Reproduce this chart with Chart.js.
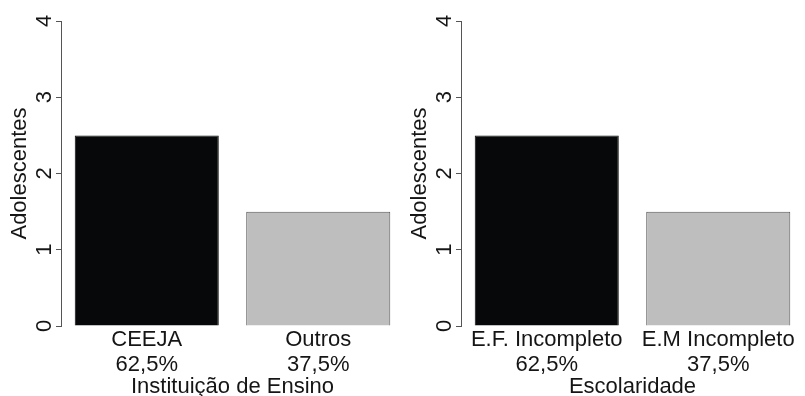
<!DOCTYPE html>
<html>
<head>
<meta charset="utf-8">
<script src="https://cdn.jsdelivr.net/npm/chart.js@4/dist/chart.umd.min.js"></script>
<style>
  html, body { margin: 0; padding: 0; background: #fff; }
  #wrap { position: relative; width: 805px; height: 396px; }
  canvas { position: absolute; top: 0; }
</style>
</head>
<body>
<div id="wrap">
  <canvas id="leftChart" width="405" height="396" style="left:0"></canvas>
  <canvas id="rightChart" width="405" height="396" style="left:400px"></canvas>
</div>
<script>
// Data
const leftNames = ['CEEJA', 'Outros'];
const leftPercents = ['62,5%', '37,5%'];
const leftValues = [2.5, 1.5];
const leftTitle = 'Instituição de Ensino';

const rightNames = ['E.F. Incompleto', 'E.M Incompleto'];
const rightPercents = ['62,5%', '37,5%'];
const rightValues = [2.5, 1.5];
const rightTitle = 'Escolaridade';

const yLabel = 'Adolescentes';
const yMin = 0;
const yMax = 4;
const yStep = 1;

const barColors = ['#070809', '#bebebe'];
const barBorders = ['#070809', '#555555'];
const textColor = '#151515';
const fontFamily = "'Liberation Sans', Arial, sans-serif";

Chart.defaults.font.family = fontFamily;
Chart.defaults.color = textColor;

function makeChart(id, names, percents, values, xTitle) {
    const ctx = document.getElementById(id).getContext('2d');
    return new Chart(ctx, {
        type: 'bar',
        data: {
            labels: names.map((n, i) => [n, percents[i]]),
            datasets: [{
                data: values,
                backgroundColor: barColors,
                borderColor: barBorders,
                borderWidth: 1,
                categoryPercentage: 1,
                barPercentage: 0.84
            }]
        },
        options: {
            responsive: false,
            animation: false,
            devicePixelRatio: 1,
            layout: { padding: { top: 21, right: 1, left: 0, bottom: 0 } },
            plugins: {
                legend: { display: false },
                tooltip: { enabled: false }
            },
            scales: {
                x: {
                    grid: { display: false, drawTicks: false },
                    border: { display: false },
                    ticks: {
                        font: { size: 22, lineHeight: 1.12 },
                        padding: 2,
                        maxRotation: 0,
                        autoSkip: false,
                        color: textColor
                    },
                    title: {
                        display: true,
                        text: xTitle,
                        font: { size: 22, lineHeight: 0.8 },
                        padding: { top: 0, bottom: 0 },
                        color: textColor
                    },
                    afterFit: s => { s.height = 70; }
                },
                y: {
                    min: yMin,
                    max: yMax,
                    grid: {
                        display: true,
                        drawOnChartArea: false,
                        drawTicks: true,
                        tickLength: 5,
                        color: '#555555'
                    },
                    border: { display: true, color: '#555555', width: 1 },
                    ticks: {
                        stepSize: yStep,
                        minRotation: 90,
                        maxRotation: 90,
                        crossAlign: 'center',
                        padding: 5,
                        font: { size: 22 },
                        color: textColor
                    },
                    title: {
                        display: true,
                        text: yLabel,
                        font: { size: 22, lineHeight: 1 },
                        padding: { top: 9, bottom: 0 },
                        color: textColor
                    },
                    afterFit: s => { s.width = 61; }
                }
            }
        }
    });
}

makeChart('leftChart', leftNames, leftPercents, leftValues, leftTitle);
makeChart('rightChart', rightNames, rightPercents, rightValues, rightTitle);
</script>
</body>
</html>
